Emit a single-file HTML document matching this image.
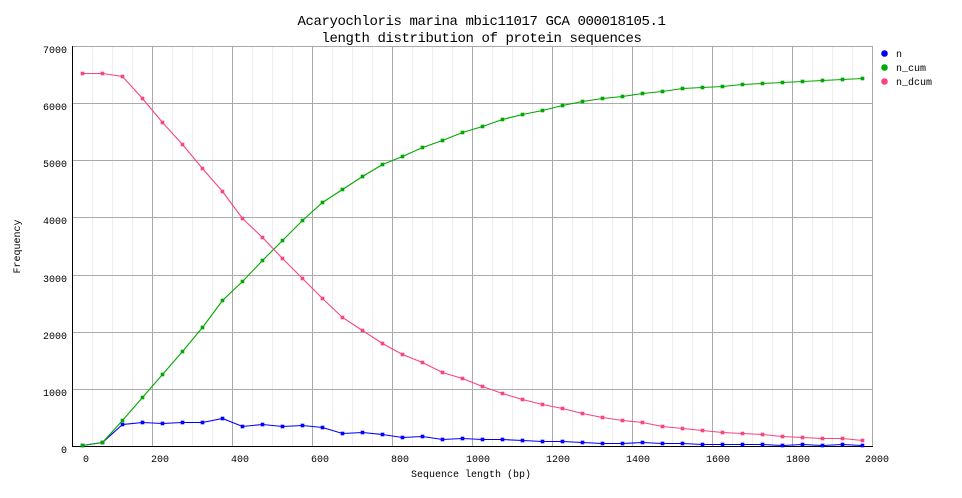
<!DOCTYPE html>
<html><head><meta charset="utf-8"><style>
html,body{margin:0;padding:0;background:#fff;}
svg{display:block;}
text{font-family:"Liberation Mono","DejaVu Sans Mono",monospace;fill:#000;}
</style></head><body>
<svg width="962" height="498" viewBox="0 0 962 498" xmlns="http://www.w3.org/2000/svg">
<defs>
<marker id="mb" markerWidth="4" markerHeight="4" refX="2" refY="2" markerUnits="userSpaceOnUse"><rect x="0.2" y="0.2" width="3.6" height="3.6" fill="#0000ff"/></marker>
<marker id="mg" markerWidth="4" markerHeight="4" refX="2" refY="2" markerUnits="userSpaceOnUse"><rect x="0.2" y="0.2" width="3.6" height="3.6" fill="#00a800"/></marker>
<marker id="mp" markerWidth="4" markerHeight="4" refX="2" refY="2" markerUnits="userSpaceOnUse"><rect x="0.2" y="0.2" width="3.6" height="3.6" fill="#f8457e"/></marker>
</defs>
<rect width="962" height="498" fill="#fff"/>
<!-- title -->
<text x="481.5" y="25" font-size="14" letter-spacing="-0.4" text-anchor="middle">Acaryochloris marina mbic11017 GCA 000018105.1</text>
<text x="481.5" y="42" font-size="14" letter-spacing="-0.4" text-anchor="middle">length distribution of protein sequences</text>
<!-- minor vertical grid -->
<g stroke="#ededed" stroke-width="1">
<path d="M92.5 46V446M112.5 46V446M132.5 46V446M172.5 46V446M192.5 46V446M212.5 46V446M252.5 46V446M272.5 46V446M292.5 46V446M332.5 46V446M352.5 46V446M372.5 46V446M412.5 46V446M432.5 46V446M452.5 46V446M492.5 46V446M512.5 46V446M532.5 46V446M572.5 46V446M592.5 46V446M612.5 46V446M652.5 46V446M672.5 46V446M692.5 46V446M732.5 46V446M752.5 46V446M772.5 46V446M812.5 46V446M832.5 46V446M852.5 46V446"/>
</g>
<!-- major grid -->
<g stroke="#aaaaaa" stroke-width="1">
<path d="M152.5 46V446M232.5 46V446M312.5 46V446M392.5 46V446M472.5 46V446M552.5 46V446M632.5 46V446M712.5 46V446M792.5 46V446M872.5 46V446"/>
<path d="M72 46.5H873M72 103.5H873M72 160.5H873M72 217.5H873M72 275.5H873M72 332.5H873M72 389.5H873"/>
</g>
<!-- axes -->
<path d="M72.5 46V447M72 446.5H873" stroke="#000" stroke-width="1"/>
<!-- y tick labels -->
<g font-size="10" text-anchor="end">
<text x="67" y="53">7000</text>
<text x="67" y="110">6000</text>
<text x="67" y="167">5000</text>
<text x="67" y="224">4000</text>
<text x="67" y="282">3000</text>
<text x="67" y="339">2000</text>
<text x="67" y="396">1000</text>
<text x="67" y="453">0</text>
</g>
<!-- x tick labels -->
<g font-size="10" text-anchor="middle">
<text x="86" y="462">0</text>
<text x="160" y="462">200</text>
<text x="240" y="462">400</text>
<text x="320" y="462">600</text>
<text x="400" y="462">800</text>
<text x="478" y="462">1000</text>
<text x="558" y="462">1200</text>
<text x="638" y="462">1400</text>
<text x="718" y="462">1600</text>
<text x="798" y="462">1800</text>
<text x="877" y="462">2000</text>
</g>
<text x="471" y="477" font-size="10" text-anchor="middle">Sequence length (bp)</text>
<text transform="translate(20,246.5) rotate(-90)" font-size="10" text-anchor="middle">Frequency</text>
<!-- series -->
<polyline fill="none" stroke="#0000ff" stroke-width="1.1" marker-start="url(#mb)" marker-mid="url(#mb)" marker-end="url(#mb)" points="82.5,445.5 102.5,442.5 122.5,424.5 142.5,422.5 162.5,423.5 182.5,422.5 202.5,422.5 222.5,418.5 242.5,426.5 262.5,424.5 282.5,426.5 302.5,425.5 322.5,427.5 342.5,433.5 362.5,432.5 382.5,434.5 402.5,437.5 422.5,436.5 442.5,439.5 462.5,438.5 482.5,439.5 502.5,439.5 522.5,440.5 542.5,441.5 562.5,441.5 582.5,442.5 602.5,443.5 622.5,443.5 642.5,442.5 662.5,443.5 682.5,443.5 702.5,444.5 722.5,444.5 742.5,444.5 762.5,444.5 782.5,445.5 802.5,444.5 822.5,445.5 842.5,444.5 862.5,445.5"/>
<polyline fill="none" stroke="#00a800" stroke-width="1.1" marker-start="url(#mg)" marker-mid="url(#mg)" marker-end="url(#mg)" points="82.5,445.5 102.5,442.5 122.5,420.5 142.5,397.5 162.5,374.5 182.5,351.5 202.5,327.5 222.5,300.5 242.5,281.5 262.5,260.5 282.5,240.5 302.5,220.5 322.5,202.5 342.5,189.5 362.5,176.5 382.5,164.5 402.5,156.5 422.5,147.5 442.5,140.5 462.5,132.5 482.5,126.5 502.5,119.5 522.5,114.5 542.5,110.5 562.5,105.5 582.5,101.5 602.5,98.5 622.5,96.5 642.5,93.5 662.5,91.5 682.5,88.5 702.5,87.5 722.5,86.5 742.5,84.5 762.5,83.5 782.5,82.5 802.5,81.5 822.5,80.5 842.5,79.5 862.5,78.5"/>
<polyline fill="none" stroke="#f8457e" stroke-width="1.1" marker-start="url(#mp)" marker-mid="url(#mp)" marker-end="url(#mp)" points="82.5,73.5 102.5,73.5 122.5,76.5 142.5,98.5 162.5,122.5 182.5,144.5 202.5,168.5 222.5,191.5 242.5,218.5 262.5,237.5 282.5,258.5 302.5,278.5 322.5,298.5 342.5,317.5 362.5,330.5 382.5,343.5 402.5,354.5 422.5,362.5 442.5,372.5 462.5,378.5 482.5,386.5 502.5,393.5 522.5,399.5 542.5,404.5 562.5,408.5 582.5,413.5 602.5,417.5 622.5,420.5 642.5,422.5 662.5,426.5 682.5,428.5 702.5,430.5 722.5,432.5 742.5,433.5 762.5,434.5 782.5,436.5 802.5,437.5 822.5,438.5 842.5,438.5 862.5,440.5"/>
<!-- legend -->
<circle cx="884.5" cy="53.5" r="3.3" fill="#0000ff"/>
<circle cx="884.5" cy="67.5" r="3.3" fill="#00a800"/>
<circle cx="884.5" cy="81.5" r="3.3" fill="#f8457e"/>
<g font-size="10">
<text x="896" y="57">n</text>
<text x="896" y="71">n_cum</text>
<text x="896" y="85">n_dcum</text>
</g>
</svg>
</body></html>
